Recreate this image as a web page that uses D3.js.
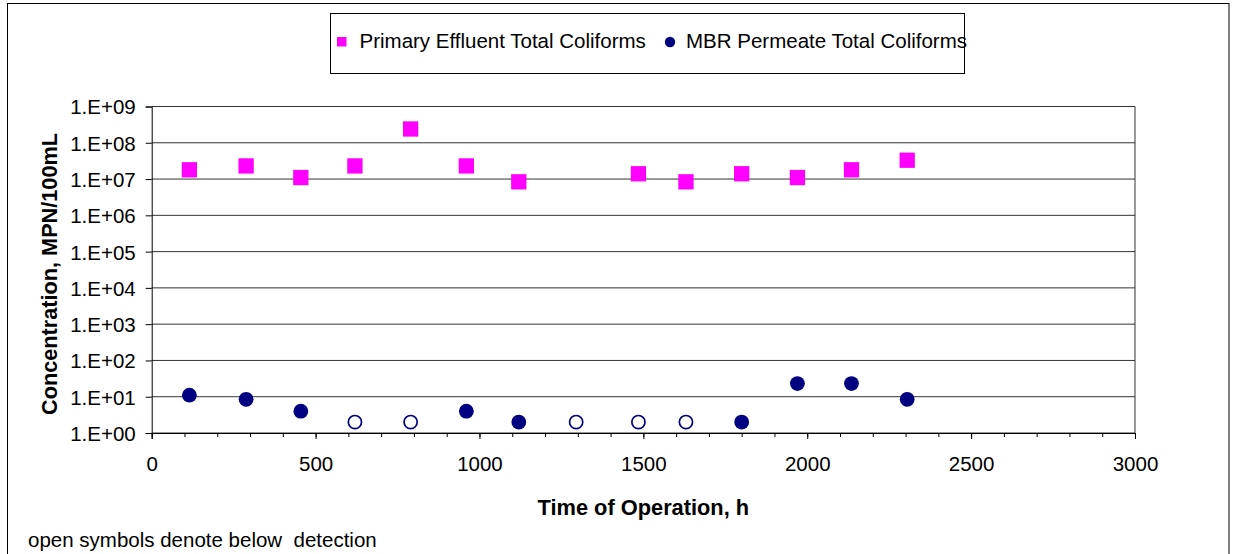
<!DOCTYPE html>
<html>
<head>
<meta charset="utf-8">
<script src="https://cdn.jsdelivr.net/npm/d3@7/dist/d3.min.js"></script>
<style>
  html, body { margin: 0; padding: 0; background: #fff; }
  svg { display: block; font-family: "Liberation Sans", Arial, sans-serif; }
</style>
</head>
<body>
<svg id="chart" width="1235" height="554"></svg>
<script>
// Sampling times (h)
const hours = [115, 288, 455, 620, 790, 960, 1120, 1295, 1485, 1630, 1800, 1970, 2135, 2305];
// Primary effluent total coliforms, MPN/100mL (no sample at 1295 h)
const primaryEffluent = [1.8e7, 2.3e7, 1.1e7, 2.3e7, 2.4e8, 2.3e7, 8.4e6, null, 1.4e7, 8.4e6, 1.4e7, 1.1e7, 1.8e7, 3.3e7];
// MBR permeate total coliforms, MPN/100mL
const mbrPermeate = [11, 8.5, 4, 2, 2, 4, 2, 2, 2, 2, 2, 23, 23, 8.5];
// true = below detection (drawn as open symbol)
const belowDetection = [false, false, false, true, true, false, false, true, true, true, false, false, false, false];

const xTicks = [0, 500, 1000, 1500, 2000, 2500, 3000];
const yTicks = [1e0, 1e1, 1e2, 1e3, 1e4, 1e5, 1e6, 1e7, 1e8, 1e9];
const yTickLabels = ["1.E+00", "1.E+01", "1.E+02", "1.E+03", "1.E+04", "1.E+05", "1.E+06", "1.E+07", "1.E+08", "1.E+09"];
const seriesNames = ["Primary Effluent Total Coliforms", "MBR Permeate Total Coliforms"];

const MAGENTA = "#ff00ff";
const NAVY = "#000080";

const svg = d3.select("#chart");
const plot = { left: 151.7, right: 1135, top: 106.5, bottom: 433 };

// chart area frame
svg.append("rect")
  .attr("x", 7.5).attr("y", 3.5)
  .attr("width", 1221.5).attr("height", 560)
  .attr("fill", "#fff").attr("stroke", "#000").attr("stroke-width", 1);

const x = d3.scaleLinear().domain([0, 3000]).range([plot.left, plot.right]);
const y = d3.scaleLog().domain([1, 1e9]).range([plot.bottom, plot.top]);

// horizontal gridlines
svg.append("g").selectAll("line")
  .data(yTicks)
  .join("line")
  .attr("x1", plot.left).attr("x2", plot.right)
  .attr("y1", d => y(d)).attr("y2", d => y(d))
  .attr("stroke", "#333").attr("stroke-width", 1);

// right edge of plot area
svg.append("line")
  .attr("x1", plot.right).attr("x2", plot.right)
  .attr("y1", plot.top).attr("y2", plot.bottom)
  .attr("stroke", "#333");

// minor x ticks every 100 h
const xMinor = d3.axisBottom(x).tickValues(d3.range(0, 3001, 100)).tickSize(4).tickFormat("");
svg.append("g").attr("transform", `translate(0,${plot.bottom})`).call(xMinor)
  .call(g => g.select(".domain").remove());

// major x axis
const xAxis = d3.axisBottom(x).tickValues(xTicks).tickSize(6).tickFormat(d3.format("d"));
const gx = svg.append("g").attr("transform", `translate(0,${plot.bottom})`).call(xAxis);
gx.select(".domain").attr("stroke", "#000");
gx.selectAll(".tick text")
  .attr("y", 37.7).attr("dy", null)
  .attr("font-size", 20.5).attr("fill", "#000")
  .attr("font-family", "'Liberation Sans', Arial, sans-serif");

// y axis
const yAxis = d3.axisLeft(y).tickValues(yTicks).tickSize(6)
  .tickFormat((d, i) => yTickLabels[i]);
const gy = svg.append("g").attr("transform", `translate(${plot.left},0)`).call(yAxis);
gy.selectAll(".tick text")
  .attr("x", -16).attr("dy", "0.36em")
  .attr("font-size", 20.5).attr("fill", "#000")
  .attr("font-family", "'Liberation Sans', Arial, sans-serif");

// axis titles
svg.append("text")
  .attr("x", (plot.left + plot.right) / 2).attr("y", 515)
  .attr("text-anchor", "middle")
  .attr("font-size", 21.8).attr("font-weight", "bold")
  .text("Time of Operation, h");

svg.append("text")
  .attr("transform", "translate(57,274) rotate(-90)")
  .attr("text-anchor", "middle")
  .attr("font-size", 21.7).attr("font-weight", "bold")
  .text("Concentration, MPN/100mL");

// primary effluent squares
const sq = 15.3;
svg.append("g").selectAll("rect")
  .data(hours.map((h, i) => ({ h, v: primaryEffluent[i] })).filter(d => d.v != null))
  .join("rect")
  .attr("x", d => x(d.h) - sq / 2).attr("y", d => y(d.v) - sq / 2)
  .attr("width", sq).attr("height", sq)
  .attr("fill", MAGENTA);

// MBR permeate circles (open = below detection)
svg.append("g").selectAll("circle")
  .data(hours.map((h, i) => ({ h, v: mbrPermeate[i], open: belowDetection[i] })))
  .join("circle")
  .attr("cx", d => x(d.h)).attr("cy", d => y(d.v))
  .attr("r", d => d.open ? 6.6 : 7.4)
  .attr("fill", d => d.open ? "#fff" : NAVY)
  .attr("stroke", d => d.open ? NAVY : "none")
  .attr("stroke-width", 1.7);

// legend
const legend = svg.append("g");
legend.append("rect")
  .attr("x", 330.5).attr("y", 13.5).attr("width", 634).attr("height", 60)
  .attr("fill", "#fff").attr("stroke", "#000");
legend.append("rect")
  .attr("x", 337).attr("y", 37).attr("width", 9.5).attr("height", 9.5)
  .attr("fill", MAGENTA);
legend.append("text")
  .attr("x", 359.5).attr("y", 47.7).attr("font-size", 20.5)
  .text(seriesNames[0]);
legend.append("circle")
  .attr("cx", 670).attr("cy", 42).attr("r", 5.2).attr("fill", NAVY);
legend.append("text")
  .attr("x", 686).attr("y", 47.7).attr("font-size", 20.5)
  .text(seriesNames[1]);

// footnote
svg.append("text")
  .attr("x", 28).attr("y", 546.5).attr("font-size", 20.5)
  .attr("xml:space", "preserve")
  .style("white-space", "pre")
  .text("open symbols denote below  detection");
</script>
</body>
</html>
